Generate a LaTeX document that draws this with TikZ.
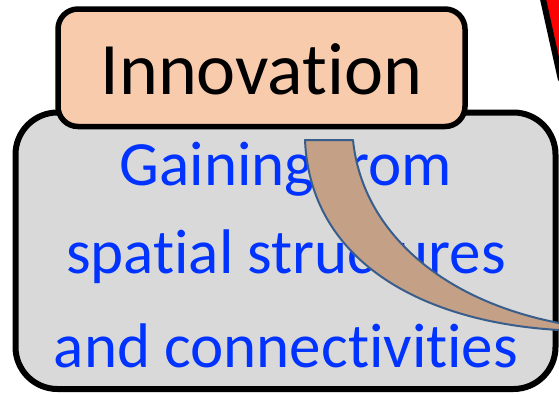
\documentclass[tikz,border=0pt]{standalone}
\usepackage{fontspec}
\setmainfont{Carlito}[Ligatures={NoCommon}]
\definecolor{peach}{HTML}{F8CBAD}
\definecolor{greyfill}{HTML}{D9D9D9}
\definecolor{bluetext}{RGB}{0,51,255}
\definecolor{tanfill}{HTML}{C4A086}
\definecolor{tanline}{HTML}{3A5E8C}
\definecolor{redfill}{RGB}{255,0,0}
\tikzset{
  panel/.style={draw=black, line width=6pt, fill=greyfill, rounded corners=42pt, inner sep=0pt},
  titlebox/.style={draw=black, line width=5.5pt, fill=peach, rounded corners=20pt, inner sep=0pt},
  bluelabel/.style={text=bluetext, font=\fontsize{63}{72}\selectfont, anchor=base, inner sep=0pt},
  titlelabel/.style={text=black, font=\fontsize{74}{86}\selectfont, anchor=base, inner sep=0pt},
  curvearrow/.style={fill=tanfill, draw=tanline, line width=2pt, line join=round}
}
\begin{document}
\begin{tikzpicture}[x=1pt,y=-1pt]
\useasboundingbox (0,0) rectangle (559,394);
\begin{scope}
\clip (0,0) rectangle (559,394);
% red shape at top right
\fill[redfill] (541,-10) -- (561,80) -- (600,80) -- (600,-10) -- cycle;
\coordinate (redtop) at (541,-10);
\coordinate (redbot) at (561,80);
\draw[line width=6pt] (redtop) -- (redbot);
% grey panel
\node[panel, minimum width=540pt, minimum height=276.5pt] (panel) at (285.5,250.75) {};
% peach title box
\node[titlebox, minimum width=407pt, minimum height=117.5pt] (title) at (261.5,67.75) {};
\node[titlelabel] (innov) at (261.5,94) {Innovation};
% blue text
\node[bluelabel] (l1) at (286,185) {Gaining from};
\node[bluelabel] (l2) at (286,273) {spatial structures};
\node[bluelabel] (l3) at (286,367) {and connectivities};
% curved tan arrow body
\coordinate (a1) at (305,140);
\coordinate (a2) at (353,140);
\coordinate (a3) at (566,324);
\coordinate (a4) at (566,330);
\draw[curvearrow] (a1) -- (a2)
  .. controls (362,230) and (440,300) .. (559,323) -- (a3) -- (a4) -- (559,330)
  .. controls (420,322) and (310,260) .. (a1) -- cycle;
\end{scope}
\end{tikzpicture}
\end{document}
